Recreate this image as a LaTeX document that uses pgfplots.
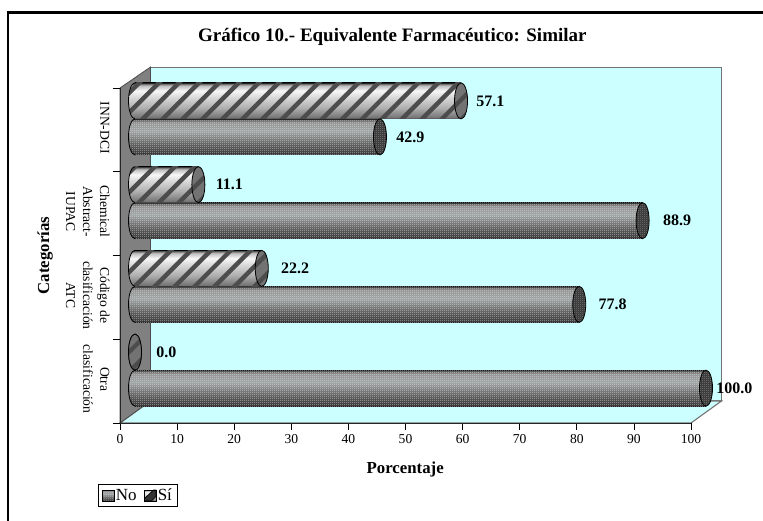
\documentclass[border=0pt]{standalone}
\usepackage{pgfplots}
\usepackage{pgfplotstable}
\pgfplotsset{compat=1.18}
\usepackage{fontspec}
\setmainfont{Liberation Serif}
\usetikzlibrary{patterns,patterns.meta}
\newcommand{\fs}{\fontsize{13.6}{17}\selectfont}
\newcommand{\ft}{\fontsize{19}{21}\selectfont\bfseries}
\newcommand{\fl}{\fontsize{16.8}{20}\selectfont\bfseries}
\newcommand{\fb}{\fontsize{16}{18}\selectfont\bfseries}
\pgfdeclareverticalshading{cylno}{100bp}{rgb(0bp)=(.05,.05,.05); rgb(25bp)=(.05,.05,.05); rgb(26.5bp)=(.2,.2,.2); rgb(40bp)=(.36,.36,.36); rgb(58bp)=(.62,.64,.64); rgb(70bp)=(.58,.58,.58); rgb(73.5bp)=(.38,.38,.38); rgb(75bp)=(.08,.08,.08); rgb(100bp)=(.08,.08,.08)}
\pgfdeclareverticalshading{cylsi}{100bp}{rgb(0bp)=(.1,.1,.1); rgb(25bp)=(.1,.1,.1); rgb(26.5bp)=(.45,.45,.45); rgb(40bp)=(.68,.68,.68); rgb(55bp)=(.85,.85,.85); rgb(64bp)=(.97,.97,.97); rgb(71bp)=(.75,.75,.75); rgb(74bp)=(.38,.38,.38); rgb(75bp)=(.08,.08,.08); rgb(100bp)=(.08,.08,.08)}
\pgfdeclarepatternformonly{cdots}{\pgfqpoint{0pt}{0pt}}{\pgfqpoint{2pt}{2pt}}{\pgfqpoint{2pt}{2pt}}{%
  \pgfpathcircle{\pgfqpoint{.5pt}{.5pt}}{.5pt}\pgfpathcircle{\pgfqpoint{1.5pt}{1.5pt}}{.5pt}\pgfusepath{fill}}
\pgfdeclarepattern{name=cstripes, type=uncolored,
  bottom left=\pgfqpoint{-.1pt}{-3pt}, top right=\pgfqpoint{14.1pt}{3pt},
  tile size=\pgfqpoint{14pt}{14.1pt}, tile transformation=\pgftransformrotate{45},
  code={\pgfpathrectangle{\pgfqpoint{-.1pt}{-2.2pt}}{\pgfqpoint{14.2pt}{4.4pt}}\pgfusepath{fill}}}
\definecolor{dotc}{gray}{0.95}
\definecolor{stripec}{gray}{0.3}
\definecolor{wallc}{RGB}{204,255,255}
\definecolor{sidec}{gray}{0.5}
\newcommand{\capellipse}{\pgfpathellipse{\pgfpointorigin}{\pgfqpoint{6.5pt}{0pt}}{\pgfqpoint{0pt}{18pt}}}
\pgfdeclareplotmark{noleft}{\capellipse\pgfshadepath{cylno}{0}\pgfusepath{}%
  \begin{pgfscope}\pgfsetfillpattern{cdots}{dotc}\pgfsetfillopacity{.6}\capellipse\pgfusepath{fill}\end{pgfscope}%
  \capellipse\pgfusepath{stroke}}
\pgfdeclareplotmark{siright}{\begin{pgfscope}\pgfsetfillcolor{gray!110}\capellipse\pgfusepath{fill}\end{pgfscope}%
  \begin{pgfscope}\pgfsetfillpattern{cstripes}{stripec}\capellipse\pgfusepath{fill}\end{pgfscope}%
  \capellipse\pgfusepath{stroke}}
\pgfdeclareplotmark{noright}{\begin{pgfscope}\pgfsetfillcolor{gray!45!black}\capellipse\pgfusepath{fill}\end{pgfscope}%
  \begin{pgfscope}\pgfsetfillpattern{cdots}{gray}\capellipse\pgfusepath{fill}\end{pgfscope}%
  \capellipse\pgfusepath{stroke}}
\pgfdeclareplotmark{sileft}{\capellipse\pgfshadepath{cylsi}{0}\pgfusepath{}%
  \begin{pgfscope}\pgfsetfillpattern{cstripes}{stripec}\capellipse\pgfusepath{fill}\end{pgfscope}%
  \capellipse\pgfusepath{stroke}}
\pgfplotstableread{
y value dx
0.285 100.0 10
1.285 77.8 19
2.285 88.9 20
3.285 42.9 16
}\tableNo
\pgfplotstableread{
y value dx
0.715 0.0 21
1.715 22.2 19
2.715 11.1 17
3.715 57.1 15
}\tableSi
% one cylinder body per table row, so that the shading fits each bar
\newcommand{\bodyNo}[2]{%
  \addplot[xbar, bar width=36pt, bar shift=0pt, draw=none, shade, shading=cylno, shading angle=0, forget plot]
    table[x=value, y=y, skip coords between index={0}{#1}, skip coords between index={#2}{4}] {\tableNo};
  \addplot[xbar, bar width=36pt, bar shift=0pt, draw=none, pattern=cdots, pattern color=dotc, fill opacity=.6, forget plot]
    table[x=value, y=y, skip coords between index={0}{#1}, skip coords between index={#2}{4}] {\tableNo};}
\newcommand{\bodySi}[2]{%
  \addplot[xbar, bar width=36pt, bar shift=0pt, draw=none, shade, shading=cylsi, shading angle=0, forget plot]
    table[x=value, y=y, skip coords between index={0}{#1}, skip coords between index={#2}{4}] {\tableSi};
  \addplot[xbar, bar width=36pt, bar shift=0pt, draw=none, pattern=cstripes, pattern color=stripec, forget plot]
    table[x=value, y=y, skip coords between index={0}{#1}, skip coords between index={#2}{4}] {\tableSi};}
\begin{document}
\begin{tikzpicture}[x=1pt,y=1pt]
\useasboundingbox (0,0) rectangle (763,521);
\draw[line width=2.5pt] (8,0) -- (8,508.5) -- (763,508.5);
\begin{axis}[
  at={(120pt,98pt)}, anchor=south west, scale only axis,
  width=571pt, height=335pt,
  xmin=0, xmax=100, ymin=0, ymax=4,
  clip=false, axis on top=true,
  axis x line=bottom, axis y line=left,
  axis line style={-, line width=0.9pt, color=black!85},
  xtick={0,10,...,100},
  ytick={0.5,1.5,2.5,3.5},
  yticklabels={{Otra\\clasificación},{Código de\\clasificación\\ATC},{Chemical\\Abstract-\\IUPAC},{INN-DCI}},
  major tick length=7pt, tick align=outside,
  tick style={black, line width=0.8pt},
  ytick style={draw=none},
  extra y ticks={0,1,2,3,4},
  extra y tick labels={},
  extra y tick style={ytick style={draw=black,line width=0.8pt}},
  /pgf/number format/assume math mode=true,
  ticklabel style={font=\fs},
  xticklabel style={yshift=-1pt},
  yticklabel style={rotate=-90, align=center, anchor=north, xshift=-2pt, yshift=0pt},
  xlabel={\fl Porcentaje},
  ylabel={\fl Categorías},
  xlabel style={at={(axis description cs:0.4995,-0.14)}, anchor=center},
  ylabel style={at={(axis description cs:-0.131,0.5)}, anchor=center},
  title={\ft Gráfico 10.- Equivalente Farmacéutico: Similar},
  title style={at={(axis description cs:0.477,1.134)}, anchor=center},
  legend style={at={(axis description cs:-0.0385,-0.2507)}, anchor=south west,
    legend columns=2, draw=black, line width=0.6pt, font=\fontsize{17}{18}\selectfont,
    inner xsep=4pt, inner ysep=3pt, /tikz/every even column/.append style={column sep=6pt},
    nodes={inner sep=1.5pt}},
  legend cell align=left,
]
\addplot[draw=black!55, line width=1.1pt, fill=wallc, forget plot] coordinates {(5.34,0.2627) (105.34,0.2627) (105.34,4.25) (5.34,4.25)} -- cycle;
\addplot[draw=black!55, line width=1.1pt, fill=wallc, forget plot] coordinates {(0,0) (100,0) (105.34,0.2627) (5.34,0.2627)} -- cycle;
\addplot[draw=black!70, line width=0.8pt, fill=sidec, forget plot] coordinates {(0,0) (5.34,0.2627) (5.34,4.25) (0,4)} -- cycle;
\addlegendimage{area legend, legend image code/.code={
  \path[shade, shading=cylno, shading angle=0] (0pt,-5.5pt) rectangle (11.5pt,5.5pt);
  \path[pattern=cdots, pattern color=dotc, fill opacity=.6] (0pt,-5.5pt) rectangle (11.5pt,5.5pt);
  \draw[black, line width=.5pt] (0pt,-5.5pt) rectangle (11.5pt,5.5pt);}}
\addlegendentry{No}
\addlegendimage{area legend, legend image code/.code={
  \path[shade, shading=cylsi, shading angle=0] (0pt,-5.5pt) rectangle (11.5pt,5.5pt);
  \path[fill=black!80] (0pt,-5.5pt) -- (7pt,-5.5pt) -- (11.5pt,-1pt) -- (11.5pt,5.5pt) -- (9pt,5.5pt) -- (0pt,-3pt) -- cycle;
  \draw[black, line width=.5pt] (0pt,-5.5pt) rectangle (11.5pt,5.5pt);}}
\addlegendentry{Sí}
\end{axis}
% far ends of the cylinders, under the bodies
\begin{axis}[
  at={(135pt,109pt)}, anchor=south west, scale only axis,
  width=571pt, height=335pt,
  xmin=0, xmax=100, ymin=0, ymax=4,
  clip=false, hide axis,
]
\addplot[only marks, mark=noleft, mark size=1pt, black, line width=.8pt, forget plot] table[x expr=0, y=y] {\tableNo};
\addplot[only marks, mark=sileft, mark size=1pt, black, line width=.8pt, forget plot] table[x expr=0, y=y] {\tableSi};
\end{axis}
\begin{axis}[
  at={(135pt,109pt)}, anchor=south west, scale only axis,
  width=571pt, height=335pt,
  xmin=0, xmax=100, ymin=0, ymax=4,
  clip=false, hide axis,
  /pgf/number format/.cd, fixed, fixed zerofill, precision=1, assume math mode=true,
]
\bodyNo{0}{1}\bodyNo{1}{2}\bodyNo{2}{3}\bodyNo{3}{4}
\addplot[only marks, mark=noright, mark size=1pt, black, line width=.8pt,
  point meta=x, nodes near coords, visualization depends on={\thisrow{dx} \as \dxv},
  every node near coord/.style={anchor=west, inner sep=0pt, xshift=\dxv pt, font=\fb, color=black},
  forget plot] table[x=value, y=y] {\tableNo};
\bodySi{0}{1}\bodySi{1}{2}\bodySi{2}{3}\bodySi{3}{4}
\addplot[only marks, mark=siright, mark size=1pt, black, line width=.8pt,
  point meta=x, nodes near coords, visualization depends on={\thisrow{dx} \as \dxv},
  every node near coord/.style={anchor=west, inner sep=0pt, xshift=\dxv pt, font=\fb, color=black},
  forget plot] table[x=value, y=y] {\tableSi};
\end{axis}
\end{tikzpicture}
\end{document}
